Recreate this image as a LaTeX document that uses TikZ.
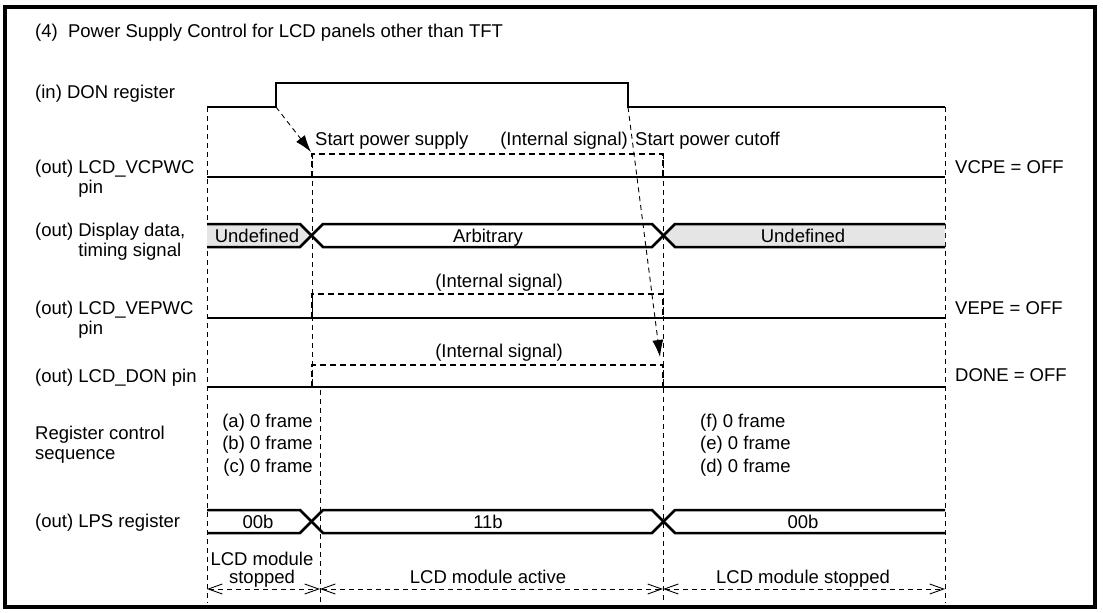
\documentclass[tikz,border=0pt]{standalone}
\usepackage{fontspec}
\setmainfont{Liberation Sans}
\usetikzlibrary{arrows.meta}
\definecolor{undefgray}{gray}{0.9}

\begin{document}
\begin{tikzpicture}[x=1pt,y=-1pt,
        font=\fontsize{18.5}{20.5}\selectfont,
        sig/.style={line width=2.5pt},
        guide/.style={line width=0.9pt,dash pattern=on 5pt off 4pt},
        internal/.style={line width=2.5pt,dash pattern=on 6pt off 4pt},
        cause/.style={line width=0.9pt,dash pattern=on 5pt off 4pt,-{Latex[length=17pt,width=11pt]}},
        span/.style={line width=0.9pt,dash pattern=on 5pt off 4pt,{Straight Barb[length=14pt,width=10pt]}-{Straight Barb[length=14pt,width=10pt]}},
        lbl/.style={anchor=base west,inner sep=0pt},
        val/.style={anchor=base,inner sep=0pt}]
        % Frame
            \useasboundingbox (0,0) rectangle (1103,613);
            \draw[line width=3.5pt] (5,7) rectangle (1095,607);
        % Title
            \node[lbl] (title) at (35,37) {(4)\ \ Power Supply Control for LCD panels other than TFT};
        % Signal names
            \node[lbl] (donreg) at (35,98) {(in) DON register};
            \node[lbl] (vcpwc) at (35,173) {(out) LCD\_VCPWC};
            \node[lbl] (vcpwcpin) at (35,193) {\hphantom{(out) }pin};
            \node[lbl] (disp) at (35,236) {(out) Display data,};
            \node[lbl] (disptiming) at (35,256) {\hphantom{(out) }timing signal};
            \node[lbl] (vepwc) at (35,314) {(out) LCD\_VEPWC};
            \node[lbl] (vepwcpin) at (35,334) {\hphantom{(out) }pin};
            \node[lbl] (donpin) at (35,382) {(out) LCD\_DON pin};
            \node[lbl] (regctrl) at (35,439) {Register control};
            \node[lbl] (regseq) at (35,459) {sequence};
            \node[lbl] (lps) at (35,527) {(out) LPS register};
        % Settings after cutoff
            \node[lbl] (vcpe) at (955,173) {VCPE = OFF};
            \node[lbl] (vepe) at (955,314) {VEPE = OFF};
            \node[lbl] (done) at (955,381) {DONE = OFF};
        % Guide lines
            \draw[guide] (207,107) -- (207,603);
            \draw[guide] (945,107) -- (945,603);
            \draw[guide] (312,154) -- (312,387);
            \draw[guide] (320,390) -- (320,603);
            \draw[guide] (663,154) -- (663,603);
        % DON register
            \coordinate (donup) at (276,107);
            \coordinate (dondown) at (628,107);
            \draw[sig] (207,107) -- (donup) -- (276,83) -- (628,83) -- (dondown) -- (945,107);
        % Pins
            \draw[sig] (207,177) -- (945,177);
            \draw[sig] (207,318) -- (945,318);
            \draw[sig] (207,387) -- (945,387);
        % Internal signals
            \coordinate (vcstart) at (311,152);
            \coordinate (donstart) at (660,357);
            \draw[internal] (312,177) -- (312,154) -- (663,154) -- (663,177);
            \draw[internal] (312,318) -- (312,294) -- (663,294) -- (663,318);
            \draw[internal] (312,387) -- (312,365) -- (663,365) -- (663,387);
            \node[lbl] (startsup) at (315,145) {Start power supply};
            \node[anchor=base east,inner sep=0pt] (intvc) at (628,145) {(Internal signal)};
            \node[lbl] (startcut) at (635,145) {Start power cutoff};
            \node[val] (intve) at (499,287) {(Internal signal)};
            \node[val] (intdon) at (499,357) {(Internal signal)};
        % Cause arrows
            \draw[cause] (donup) -- (vcstart);
            \draw[cause] (dondown) -- (donstart);
        % Display data bus
            \fill[undefgray] (207,224) -- (300,224) -- (312,235.5) -- (300,247) -- (207,247) -- cycle;
            \fill[undefgray] (945,224) -- (675,224) -- (663,235.5) -- (675,247) -- (945,247) -- cycle;
            \draw[sig] (207,224) -- (300,224) -- (323,247) -- (652,247) -- (675,224) -- (945,224);
            \draw[sig] (207,247) -- (300,247) -- (323,224) -- (652,224) -- (675,247) -- (945,247);
            \node[val] (undefl) at (257,242) {Undefined};
            \node[val] (arb) at (488,242) {Arbitrary};
            \node[val] (undefr) at (803,242) {Undefined};
        % Register control sequence
            \node[anchor=base east,inner sep=0pt] (seqa) at (313,427) {(a) 0 frame};
            \node[anchor=base east,inner sep=0pt] (seqb) at (313,449.5) {(b) 0 frame};
            \node[anchor=base east,inner sep=0pt] (seqc) at (313,472) {(c) 0 frame};
            \node[lbl] (seqf) at (700,427) {(f) 0 frame};
            \node[lbl] (seqe) at (700,449.5) {(e) 0 frame};
            \node[lbl] (seqd) at (700,472) {(d) 0 frame};
        % LPS register bus
            \draw[sig] (207,510) -- (300,510) -- (323,533) -- (652,533) -- (675,510) -- (945,510);
            \draw[sig] (207,533) -- (300,533) -- (323,510) -- (652,510) -- (675,533) -- (945,533);
            \node[val] (lpsa) at (258,528) {00b};
            \node[val] (lpsb) at (488,528) {11b};
            \node[val] (lpsc) at (803,528) {00b};
        % Module states
            \coordinate (s0) at (207,589);
            \coordinate (s1) at (320,589);
            \coordinate (s2) at (663,589);
            \coordinate (s3) at (945,589);
            \draw[span] (s0) -- (s1);
            \draw[span] (s1) -- (s2);
            \draw[span] (s2) -- (s3);
            \node[val] (stop1) at (262,565) {LCD module};
            \node[val] (stop1b) at (262,583) {stopped};
            \node[val] (active) at (488,583) {LCD module active};
            \node[val] (stop2) at (803,583) {LCD module stopped};
        \end{tikzpicture}
\end{document}
